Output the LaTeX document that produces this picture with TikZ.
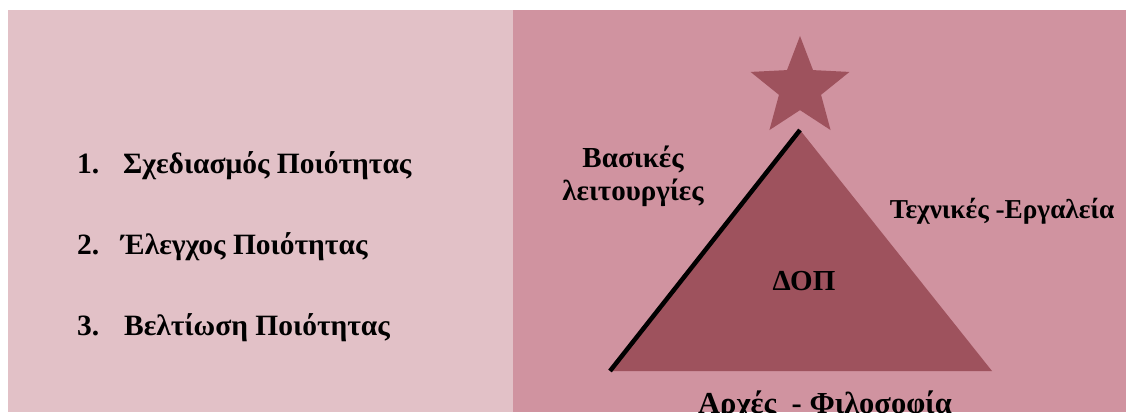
\documentclass[tikz,border=0pt]{standalone}
\usepackage{fontspec}
\setmainfont{Liberation Serif}
\usetikzlibrary{shapes.geometric}

\definecolor{paleRose}{HTML}{E2C1C7}
\definecolor{midRose}{HTML}{D093A0}
\definecolor{darkRose}{HTML}{9E525D}

\tikzset{
  listnum/.style={anchor=base west,font=\bfseries\fontsize{29.5}{34}\selectfont,inner sep=0pt},
  listtext/.style={anchor=base west,font=\bfseries\fontsize{29.5}{34}\selectfont,inner sep=0pt},
  sidelabel/.style={anchor=base,font=\bfseries\fontsize{29}{34}\selectfont,inner sep=0pt,align=center}
}

\begin{document}
\begin{tikzpicture}[x=1pt,y=-1pt]
  \useasboundingbox (0,0) rectangle (1126,412);
  \clip (0,0) rectangle (1126,412);
  \fill[white] (0,0) rectangle (1126,412);
  % two panels
  \fill[paleRose] (8,10) rectangle (513,412);
  \fill[midRose] (513,10) rectangle (1126,412);

  % list on the left
  \node[listnum] (n1) at (77,173) {1.};
  \node[listtext] (t1) at (123,173) {Σχεδιασμός Ποιότητας};
  \node[listnum] (n2) at (77,254) {2.};
  \node[listtext] (t2) at (121,254) {Έλεγχος Ποιότητας};
  \node[listnum] (n3) at (77,335) {3.};
  \node[listtext] (t3) at (124,335) {Βελτίωση Ποιότητας};

  % triangle and star
  \coordinate (apex) at (800,130);
  \coordinate (bl) at (610,371);
  \coordinate (br) at (992,371);
  \fill[darkRose] (apex) -- (br) -- (bl) -- cycle;
  \draw[line width=4.5pt] (bl) -- (apex);
  \node[star,star points=5,star point ratio=2.35,minimum size=104pt,inner sep=0pt,fill=darkRose] (star) at (800,88) {};

  \node[sidelabel] (basic) at (633,167) {Βασικές};
  \node[sidelabel] (func) at (633,200) {λειτουργίες};
  \node[sidelabel,font=\bfseries\fontsize{27.3}{34}\selectfont] (tools) at (1002,218) {Τεχνικές -Εργαλεία};
  \node[sidelabel] (dop) at (804,290) {ΔΟΠ};
  \node[sidelabel,font=\bfseries\fontsize{30.5}{34}\selectfont] (phil) at (825,413) {Αρχές \ - Φιλοσοφία};
\end{tikzpicture}
\end{document}
